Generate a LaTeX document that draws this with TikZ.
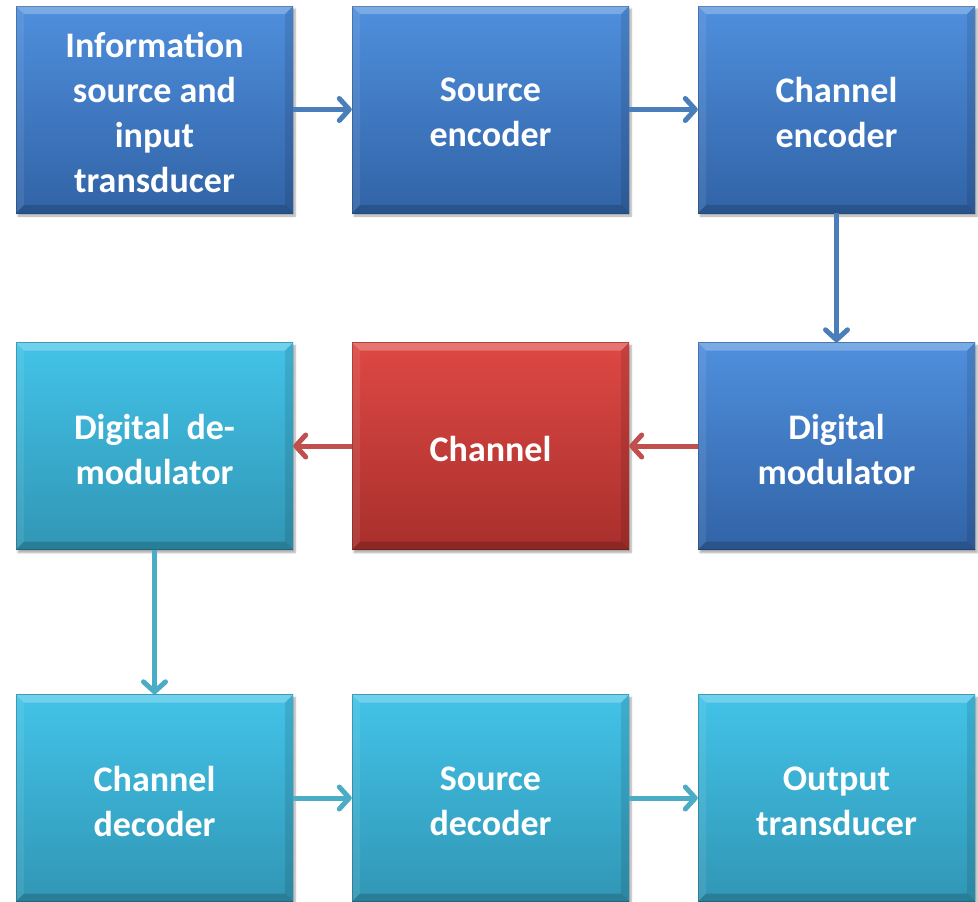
\documentclass[tikz,border=0pt]{standalone}
\usepackage{fontspec}
\setmainfont{Carlito}
\usetikzlibrary{arrows.meta,shadows.blur,calc}
\definecolor{blueTop}{HTML}{4F8FDD}
\definecolor{blueBot}{HTML}{3163A6}
\definecolor{cyanTop}{HTML}{42C3E8}
\definecolor{cyanBot}{HTML}{3196B5}
\definecolor{redTop}{HTML}{DE4844}
\definecolor{redBot}{HTML}{A82F2C}
\definecolor{arrBlue}{HTML}{4A7EBB}
\definecolor{arrCyan}{HTML}{4BACC6}
\definecolor{arrRed}{HTML}{C0504D}
\tikzset{
  blk/.style={minimum width=277pt, minimum height=207pt, inner sep=0pt,
    blur shadow={shadow xshift=2pt, shadow yshift=-3pt, shadow blur steps=6, shadow opacity=35},
    path picture={
      \coordinate (nw) at (path picture bounding box.north west);
      \coordinate (ne) at (path picture bounding box.north east);
      \coordinate (sw) at (path picture bounding box.south west);
      \coordinate (se) at (path picture bounding box.south east);
      \fill[white,opacity=0.25] (nw) -- (ne) -- ($(ne)+(-8pt,-8pt)$) -- ($(nw)+(8pt,-8pt)$) -- cycle;
      \fill[white,opacity=0.08] (nw) -- ($(nw)+(8pt,-8pt)$) -- ($(sw)+(8pt,8pt)$) -- (sw) -- cycle;
      \fill[black,opacity=0.10] (ne) -- ($(ne)+(-8pt,-8pt)$) -- ($(se)+(-8pt,8pt)$) -- (se) -- cycle;
      \fill[black,opacity=0.17] (sw) -- ($(sw)+(8pt,8pt)$) -- ($(se)+(-8pt,8pt)$) -- (se) -- cycle;
      \draw[black,opacity=0.22,line width=1pt] (nw) rectangle (se);
    }},
  txt/.style={text=white, align=center, inner sep=0pt,
    font=\fontsize{36}{45}\selectfont\bfseries},
  blueblk/.style={blk, top color=blueTop, bottom color=blueBot},
  cyanblk/.style={blk, top color=cyanTop, bottom color=cyanBot},
  redblk/.style={blk, top color=redTop, bottom color=redBot},
  conn/.style={line width=5pt, -{Straight Barb[length=10pt,width=22pt,round]}},
}
\newcommand{\myblock}[4]{%
  \node[#1] (#2) at (#3) {};
  \node[txt] (#2-t) at ([yshift=-3pt]#2.center) {#4};}
\begin{document}
\begin{tikzpicture}[x=1pt,y=-1pt]
\useasboundingbox (0,0) rectangle (978,902);
% row 1
\myblock{blueblk}{info}{154.5,109.5}{Information\\source and\\input\\transducer}
\myblock{blueblk}{senc}{490.5,109.5}{Source\\encoder}
\myblock{blueblk}{cenc}{836.5,109.5}{Channel\\encoder}
% row 2
\myblock{cyanblk}{demod}{154.5,446}{Digital\ \ de-\\modulator}
\myblock{redblk}{chan}{490.5,446}{Channel}
\myblock{blueblk}{mod}{836.5,446}{Digital\\modulator}
% row 3
\myblock{cyanblk}{cdec}{154.5,798}{Channel\\decoder}
\myblock{cyanblk}{sdec}{490.5,798}{Source\\decoder}
\myblock{cyanblk}{out}{836.5,798}{Output\\transducer}
% connectors
\draw[conn, arrBlue] (info.east) -- (senc.west);
\draw[conn, arrBlue] (senc.east) -- (cenc.west);
\draw[conn, arrBlue] (cenc.south) -- (mod.north);
\draw[conn, arrRed] (mod.west) -- (chan.east);
\draw[conn, arrRed] (chan.west) -- (demod.east);
\draw[conn, arrCyan] (demod.south) -- (cdec.north);
\draw[conn, arrCyan] (cdec.east) -- (sdec.west);
\draw[conn, arrCyan] (sdec.east) -- (out.west);
\end{tikzpicture}
\end{document}
